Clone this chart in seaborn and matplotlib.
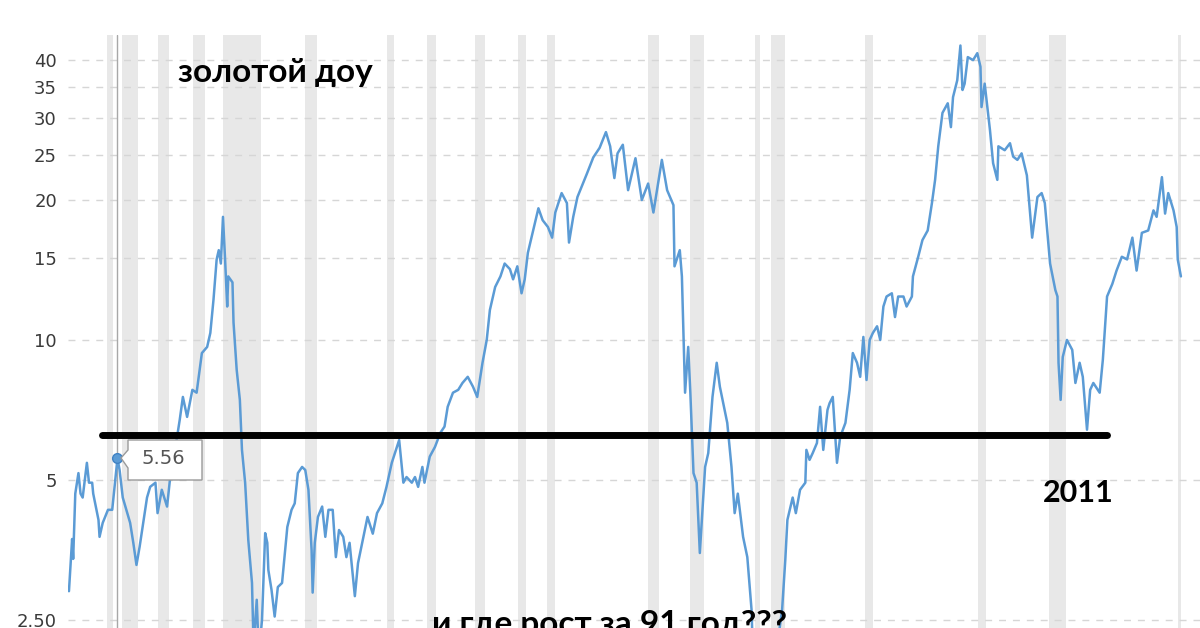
import matplotlib
matplotlib.use("Agg")
import matplotlib.pyplot as plt
from matplotlib.patches import Polygon
from matplotlib.ticker import NullLocator
import seaborn as sns
import pandas as pd

# ---- data (Dow / gold ratio, log scale) ----
years = [
    1915.0, 1915.3, 1915.4, 1915.6, 1915.9, 1916.1, 1916.3, 1916.7, 1916.9, 1917.2,
    1917.3, 1917.8, 1917.9, 1918.2, 1918.7, 1919.1, 1919.6, 1919.8, 1920.1, 1920.8,
    1921.1, 1921.4, 1921.7, 1922.4, 1922.7, 1923.2, 1923.4, 1923.8, 1924.3, 1924.6,
    1925.1, 1925.5, 1925.8, 1926.2, 1926.7, 1927.1, 1927.6, 1928.1, 1928.4, 1928.7,
    1929.0, 1929.2, 1929.4, 1929.6, 1929.8, 1930.0, 1930.1, 1930.5, 1930.6, 1930.9,
    1931.2, 1931.4, 1931.7, 1932.0, 1932.35, 1932.5, 1932.8, 1933.0, 1933.3, 1933.6,
    1933.8, 1933.9, 1934.2, 1934.5, 1934.8, 1935.2, 1935.7, 1936.1, 1936.4, 1936.7,
    1937.1, 1937.4, 1937.7, 1938.0, 1938.1, 1938.3, 1938.6, 1939.0, 1939.3, 1939.6,
    1940.0, 1940.3, 1940.6, 1941.0, 1941.3, 1941.6, 1942.1, 1942.4, 1943.1, 1943.3,
    1943.8, 1944.2, 1944.7, 1945.1, 1945.6, 1946.1, 1946.3, 1946.7, 1947.0, 1947.5,
    1947.8, 1948.1, 1948.5, 1948.7, 1949.2, 1949.7, 1950.2, 1950.6, 1950.9, 1951.4,
    1951.9, 1952.3, 1952.8, 1953.3, 1953.7, 1954.2, 1954.6, 1954.9, 1955.4, 1955.9,
    1956.3, 1956.8, 1957.1, 1957.5, 1957.9, 1958.2, 1958.5, 1959.0, 1959.5, 1959.9,
    1960.4, 1960.8, 1961.1, 1961.7, 1962.2, 1962.4, 1962.8, 1963.2, 1964.1, 1964.7,
    1965.3, 1965.9, 1966.3, 1966.7, 1967.0, 1967.5, 1968.0, 1968.7, 1969.3, 1969.9,
    1970.4, 1971.2, 1971.7, 1972.3, 1972.4, 1972.9, 1973.1, 1973.4, 1973.7, 1973.9,
    1974.2, 1974.5, 1974.8, 1975.3, 1975.6, 1976.0, 1976.4, 1976.7, 1977.4, 1977.8,
    1978.1, 1978.4, 1978.9, 1979.3, 1979.7, 1980.0, 1980.5, 1981.3, 1981.9, 1982.6,
    1982.9, 1983.1, 1983.6, 1983.9, 1984.3, 1984.8, 1984.9, 1985.2, 1985.5, 1985.9,
    1986.2, 1986.5, 1986.9, 1987.1, 1987.4, 1987.8, 1988.1, 1988.6, 1989.0, 1989.3,
    1989.7, 1990.0, 1990.3, 1990.6, 1990.9, 1991.2, 1991.6, 1991.9, 1992.2, 1992.5,
    1993.0, 1993.3, 1993.6, 1994.1, 1994.4, 1994.9, 1995.0, 1995.5, 1995.9, 1996.4,
    1996.8, 1997.1, 1997.4, 1997.8, 1998.3, 1998.6, 1998.8, 1999.2, 1999.5, 1999.7,
    1999.9, 2000.2, 2000.7, 2001.1, 2001.4, 2001.5, 2001.8, 2002.3, 2002.6, 2003.0,
    2003.1, 2003.7, 2004.2, 2004.5, 2004.9, 2005.3, 2005.8, 2006.3, 2006.8, 2007.2,
    2007.5, 2008.0, 2008.5, 2008.7, 2008.8, 2009.0, 2009.2, 2009.6, 2010.1, 2010.4,
    2010.8, 2011.1, 2011.5, 2011.8, 2012.1, 2012.7, 2013.0, 2013.4, 2013.9, 2014.3,
    2014.8, 2015.3, 2015.8, 2016.2, 2016.7, 2017.3, 2017.8, 2018.1, 2018.6, 2018.9,
    2019.2, 2019.7, 2020.0, 2020.1, 2020.4,
]
ratio = [
    2.88, 3.73, 3.38, 4.67, 5.17, 4.67, 4.58, 5.44, 4.93, 4.93,
    4.67, 4.10, 3.77, 4.04, 4.31, 4.31, 5.56, 5.25, 4.58, 4.04,
    3.66, 3.28, 3.59, 4.58, 4.83, 4.93, 4.24, 4.76, 4.38, 5.07,
    5.89, 6.73, 7.54, 6.83, 7.81, 7.70, 9.37, 9.66, 10.35, 12.2,
    14.9, 15.6, 14.6, 18.4, 14.9, 11.8, 13.7, 13.3, 10.9, 8.62,
    7.43, 5.80, 4.93, 3.71, 3.00, 2.20, 2.76, 2.10, 2.50, 3.84,
    3.66, 3.20, 2.90, 2.54, 2.94, 3.00, 3.96, 4.31, 4.45, 5.17,
    5.33, 5.25, 4.76, 3.53, 2.86, 3.66, 4.16, 4.38, 3.77, 4.31,
    4.31, 3.41, 3.90, 3.77, 3.41, 3.66, 2.81, 3.31, 3.96, 4.16,
    3.83, 4.24, 4.45, 4.83, 5.44, 5.89, 6.09, 4.93, 5.07, 4.93,
    5.07, 4.83, 5.33, 4.93, 5.61, 5.89, 6.31, 6.51, 7.18, 7.70,
    7.81, 8.08, 8.33, 7.93, 7.54, 8.93, 10.0, 11.6, 13.0, 13.7,
    14.6, 14.2, 13.5, 14.4, 12.6, 13.5, 15.4, 17.2, 19.2, 18.1,
    17.5, 16.6, 18.8, 20.7, 19.7, 16.2, 18.4, 20.3, 22.8, 24.7,
    25.9, 28.0, 26.1, 22.3, 25.2, 26.3, 21.0, 24.6, 20.0, 21.7,
    18.8, 24.4, 21.0, 19.5, 14.4, 15.6, 13.7, 7.70, 9.66, 7.70,
    5.17, 4.93, 3.48, 5.33, 5.71, 7.54, 8.93, 7.93, 6.63, 5.33,
    4.24, 4.67, 3.77, 3.41, 2.63, 1.60, 1.70, 1.85, 2.00, 2.63,
    3.36, 4.10, 4.58, 4.24, 4.76, 4.93, 5.80, 5.52, 5.71, 6.00,
    7.18, 5.80, 7.07, 7.31, 7.54, 5.44, 6.18, 6.63, 7.81, 9.37,
    8.93, 8.33, 10.15, 8.20, 10.0, 10.35, 10.7, 10.0, 11.8, 12.4,
    12.6, 11.2, 12.4, 12.4, 11.8, 12.4, 13.7, 15.1, 16.4, 17.2,
    19.7, 22.1, 26.1, 30.8, 32.3, 28.7, 33.3, 36.2, 43.0, 34.5,
    35.6, 40.6, 40.0, 41.4, 38.7, 31.7, 35.6, 28.3, 24.0, 22.1,
    26.1, 25.6, 26.5, 24.8, 24.4, 25.2, 22.6, 16.6, 20.3, 20.7,
    19.7, 14.6, 12.8, 12.4, 8.93, 7.43, 9.19, 10.0, 9.52, 8.08,
    8.93, 8.33, 6.41, 7.81, 8.08, 7.70, 9.06, 12.4, 13.2, 14.1,
    15.1, 14.9, 16.6, 14.1, 17.0, 17.2, 19.0, 18.4, 22.4, 18.7,
    20.7, 19.0, 17.5, 14.9, 13.7,
]

# recessions (shaded bands)
rec_start = [1918.6, 1920.0, 1923.4, 1926.8, 1929.6, 1937.4, 1945.1, 1948.9, 1953.5, 1957.6,
             1960.3, 1969.9, 1973.9, 1980.0, 1981.5, 1990.5, 2001.2, 2007.9, 2020.1]
rec_end = [1919.2, 1921.5, 1924.5, 1927.9, 1933.2, 1938.5, 1945.8, 1949.8, 1954.4, 1958.3,
           1961.1, 1970.9, 1975.2, 1980.5, 1982.9, 1991.2, 2001.9, 2009.5, 2020.4]

ytick_vals = [2.5, 5, 10, 15, 20, 25, 30, 35, 40]
ytick_labels = ["2.50", "5", "10", "15", "20", "25", "30", "35", "40"]

tooltip_year, tooltip_value = 1919.6, 5.56
level_value = 6.25
level_start, level_end = 1918.1, 2013.4

df = pd.DataFrame({"year": years, "ratio": ratio})

sns.set_style("white")
plt.rcParams["font.family"] = ["DejaVu Sans"]

W, H = 1200, 628
fig = plt.figure(figsize=(W / 100, H / 100), dpi=100)
fig.patch.set_facecolor("white")
ax = fig.add_axes([68 / W, 0, 1 - 68 / W, 1 - 35 / H])
ax.set_yscale("log")
ax.set_xlim(1914.91, 2022.21)
ax.set_ylim(2.40, 45.3)

for s, e in zip(rec_start, rec_end):
    ax.axvspan(s, e, color="#e8e8e8", lw=0, zorder=0)

ax.set_yticks(ytick_vals)
ax.set_yticklabels(ytick_labels)
ax.yaxis.set_minor_locator(NullLocator())
ax.grid(axis="y", color="#d6d6d6", linestyle=(0, (5, 5)), lw=1)
ax.grid(axis="x", visible=False)
ax.set_axisbelow(True)
ax.tick_params(axis="y", length=0, pad=8, labelsize=13, labelcolor="#3a3a3a")
ax.tick_params(axis="x", bottom=False, labelbottom=False)
for sp in ax.spines.values():
    sp.set_visible(False)

# hover crosshair
ax.axvline(tooltip_year, color="#a8a8a8", lw=1, zorder=2)

sns.lineplot(data=df, x="year", y="ratio", ax=ax, color="#5b9bd5", lw=1.8,
             estimator=None, sort=False, zorder=3)
ax.set_xlabel("")
ax.set_ylabel("")

# thick black horizontal level
ax.plot([level_start, level_end], [level_value, level_value], color="black", lw=5,
        solid_capstyle="round", zorder=4)

# hovered point
ax.plot([tooltip_year], [tooltip_value], "o", ms=7, color="#5b9bd5", mec="#3f82c4",
        mew=1, zorder=5)

# tooltip box
def fp(px, py):
    return (px / W, 1 - py / H)

pts = [fp(128, 440), fp(202, 440), fp(202, 480), fp(128, 480), fp(128, 468),
       fp(121, 458), fp(128, 450)]
fig.patches.append(Polygon(pts, closed=True, transform=fig.transFigure,
                           fc="white", ec="#9a9a9a", lw=1, zorder=5))
fig.text(*fp(163, 459), f"{tooltip_value:.2f}", ha="center", va="center",
         fontsize=14, color="#555555", zorder=6)

bold_family = ["Lato", "Open Sans", "DejaVu Sans"]
fig.text(*fp(178, 82), "золотой доу", ha="left", va="baseline", fontsize=24,
         fontweight="bold", family=bold_family, color="black", zorder=6)
fig.text(*fp(1043, 502), "2011", ha="left", va="baseline", fontsize=22,
         fontweight="bold", family=bold_family, color="black", zorder=6)
fig.text(*fp(432, 634), "и где рост за 91 год???", ha="left", va="baseline",
         fontsize=24, fontweight="bold", family=bold_family, color="black", zorder=6)

fig.savefig("out.png", dpi=100, facecolor="white")
